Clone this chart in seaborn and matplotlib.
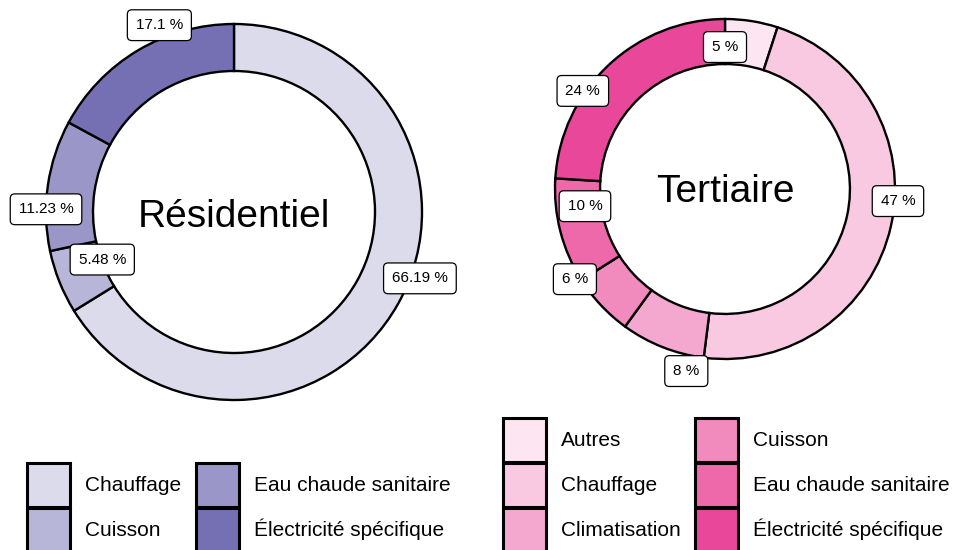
import numpy as np
import matplotlib
matplotlib.use("Agg")
import matplotlib.pyplot as plt
from matplotlib.patches import Patch
import seaborn as sns

# ---- data ----
res_categories = ["Chauffage", "Cuisson", "Eau chaude sanitaire", "Électricité spécifique"]
res_values = [66.19, 5.48, 11.23, 17.1]
res_labels = ["66.19 %", "5.48 %", "11.23 %", "17.1 %"]
res_title = "Résidentiel"

ter_categories = ["Autres", "Chauffage", "Climatisation", "Cuisson",
                  "Eau chaude sanitaire", "Électricité spécifique"]
ter_values = [5, 47, 8, 6, 10, 24]
ter_labels = ["5 %", "47 %", "8 %", "6 %", "10 %", "24 %"]
ter_title = "Tertiaire"

# ---- style ----
res_colors = ["#dcdbeb", "#b7b5d8", "#9a96c7", "#7570b3"]
ter_colors = ["#fde5f1", "#f9c8e1", "#f5a8cf", "#f18abd", "#ed69aa", "#e8479a"]
# label placement (repel-like): angular nudge (deg) and radius (fraction of outer)
res_nudge = [-9.5, 2.0, -7.4, 9.0]
res_rad = [1.05, 0.745, 1.0, 1.07]
ter_nudge = [-9.0, -8.6, -9.6, 12.2, 7.4, -12.2]
ter_rad = [0.835, 1.02, 1.095, 1.03, 0.83, 1.016]

sns.set_theme(style="white")
plt.rcParams["font.family"] = ["Liberation Sans", "DejaVu Sans"]
plt.rcParams["text.color"] = "black"

W, H = 960, 550
fig = plt.figure(figsize=(9.6, 5.5), dpi=100)


def donut(cx, cy, r, values, colors, labels, title, hole, nudge, rad, title_dy):
    ax = fig.add_axes([(cx - r) / W, (H - cy - r) / H, 2 * r / W, 2 * r / H])
    ax.pie(values, colors=colors, startangle=90, counterclock=False, radius=1.0,
           wedgeprops=dict(width=1 - hole, edgecolor="black", linewidth=1.7))
    ax.set_xlim(-1, 1)
    ax.set_ylim(-1, 1)
    ax.set_aspect("equal")
    ax.axis("off")
    total = float(np.sum(values))
    cum = np.cumsum(values) - np.asarray(values) / 2.0
    for c, lab, dn, rr in zip(cum, labels, nudge, rad):
        ang = np.deg2rad(c / total * 360.0 + dn)
        x, y = rr * np.sin(ang), rr * np.cos(ang)
        ax.text(x, y, lab, ha="center", va="center", fontsize=11, color="black",
                clip_on=False,
                bbox=dict(boxstyle="round,pad=0.55,rounding_size=0.3", fc="white",
                          ec="black", lw=0.9))
    ax.text(0, title_dy, title, ha="center", va="center", fontsize=28, color="black")
    return ax


donut(234, 212, 188, res_values, res_colors, res_labels, res_title, 0.75,
      res_nudge, res_rad, -0.025)
donut(725, 189, 170, ter_values, ter_colors, ter_labels, ter_title, 0.735,
      ter_nudge, ter_rad, -0.02)


def legend(cats, colors, x, y):
    handles = [Patch(facecolor=c, edgecolor="black", linewidth=2.2) for c in colors]
    fig.legend(handles, cats, loc="upper left", bbox_to_anchor=(x / W, 1 - y / H),
               ncol=2, frameon=False, fontsize=15, handlelength=2.05, handleheight=2.88,
               handletextpad=0.72, columnspacing=0.72, labelspacing=0.05,
               borderpad=0, borderaxespad=0, labelcolor="black")


legend(res_categories, res_colors, 27, 463)
legend(ter_categories, ter_colors, 503, 418)

fig.savefig("out.png", dpi=100, facecolor="white")
